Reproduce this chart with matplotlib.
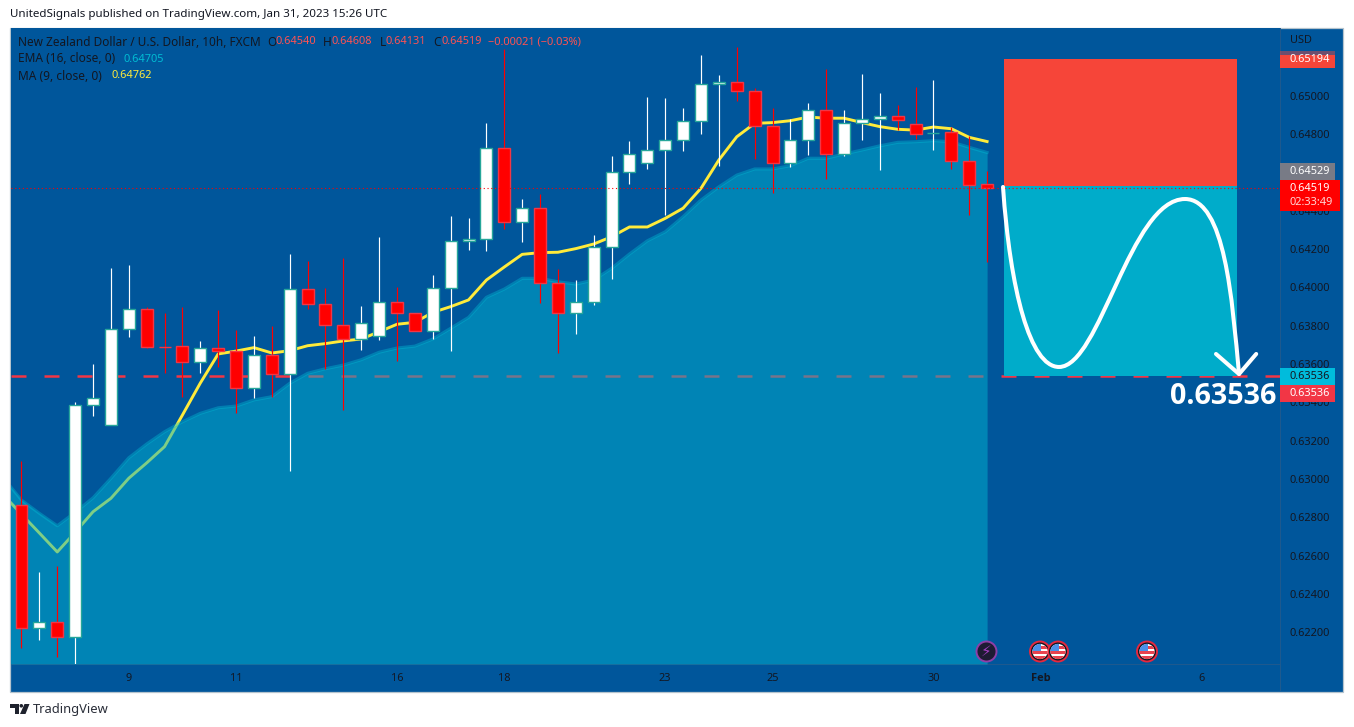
# plot.py

import numpy as np
import matplotlib as mpl
mpl.use('Agg')
import matplotlib.pyplot as plt
from matplotlib.patches import Circle, Polygon, Rectangle, PathPatch
from matplotlib.path import Path
from matplotlib.transforms import Affine2D

W, H = 1354, 727

opens = [0.62863, 0.62220, 0.62252, 0.62176, 0.63385, 0.63280, 0.63782, 0.63886, 0.63691, 0.63693,
         0.63609, 0.63682, 0.63667, 0.63474, 0.63646, 0.63547, 0.63994, 0.63912, 0.63803, 0.63729,
         0.63748, 0.63923, 0.63865, 0.63771, 0.63996, 0.64241, 0.64252, 0.64730, 0.64340, 0.64414,
         0.64022, 0.63865, 0.63926, 0.64213, 0.64602, 0.64649, 0.64716, 0.64769, 0.64868, 0.65061,
         0.65072, 0.65028, 0.64845, 0.64649, 0.64769, 0.64925, 0.64699, 0.64857, 0.64881, 0.64894,
         0.64852, 0.64808, 0.64810, 0.64662, 0.64540]
highs = [0.63094, 0.62514, 0.62546, 0.63401, 0.63601, 0.64102, 0.64117, 0.63897, 0.63865, 0.63897,
         0.63719, 0.63882, 0.63778, 0.63747, 0.63799, 0.64175, 0.64138, 0.63997, 0.64152, 0.63903,
         0.64264, 0.64001, 0.63865, 0.64065, 0.64373, 0.64363, 0.64857, 0.65245, 0.64462, 0.64488,
         0.64095, 0.64039, 0.64274, 0.64687, 0.64765, 0.64995, 0.64990, 0.64936, 0.65214, 0.65110,
         0.65254, 0.65043, 0.64937, 0.64880, 0.64962, 0.65139, 0.64927, 0.65115, 0.65014, 0.64951,
         0.65047, 0.65084, 0.64837, 0.64791, 0.64608]
lows = [0.62119, 0.62159, 0.62072, 0.62034, 0.63331, 0.63280, 0.63743, 0.63686, 0.63555, 0.63430,
        0.63555, 0.63583, 0.63346, 0.63421, 0.63430, 0.63043, 0.63888, 0.63573, 0.63360, 0.63674,
        0.63726, 0.63616, 0.63771, 0.63731, 0.63670, 0.64196, 0.64191, 0.64307, 0.64239, 0.63921,
        0.63656, 0.63757, 0.63909, 0.64046, 0.64540, 0.64619, 0.64379, 0.64714, 0.64803, 0.64636,
        0.64974, 0.64669, 0.64495, 0.64631, 0.64692, 0.64568, 0.64688, 0.64772, 0.64615, 0.64822,
        0.64775, 0.64720, 0.64619, 0.64379, 0.64131]
closes = [0.62220, 0.62252, 0.62176, 0.63385, 0.63421, 0.63782, 0.63886, 0.63691, 0.63689, 0.63609,
          0.63682, 0.63667, 0.63474, 0.63646, 0.63547, 0.63994, 0.63912, 0.63803, 0.63729, 0.63813,
          0.63923, 0.63865, 0.63771, 0.63996, 0.64241, 0.64252, 0.64730, 0.64340, 0.64414, 0.64022,
          0.63865, 0.63926, 0.64213, 0.64602, 0.64696, 0.64716, 0.64769, 0.64868, 0.65061, 0.65072,
          0.65028, 0.64845, 0.64649, 0.64769, 0.64925, 0.64699, 0.64857, 0.64881, 0.64894, 0.64876,
          0.64803, 0.64808, 0.64662, 0.64537, 0.64519]

# first value belongs to the bar just left of the pane
ma9 = [0.62916, 0.62816, 0.62718, 0.62619, 0.62722, 0.62829, 0.62899, 0.63004, 0.63084, 0.63169,
       0.63334, 0.63501, 0.63653, 0.63668, 0.63686, 0.63658, 0.63670, 0.63696, 0.63707, 0.63721,
       0.63731, 0.63769, 0.63808, 0.63818, 0.63870, 0.63900, 0.63935, 0.64039, 0.64107, 0.64173,
       0.64182, 0.64184, 0.64203, 0.64227, 0.64265, 0.64316, 0.64316, 0.64361, 0.64414, 0.64518,
       0.64666, 0.64787, 0.64857, 0.64861, 0.64871, 0.64890, 0.64884, 0.64884, 0.64861, 0.64840,
       0.64826, 0.64822, 0.64838, 0.64829, 0.64784, 0.64762]
ema16 = [0.63005, 0.62890, 0.62821, 0.62756, 0.62826, 0.62902, 0.63004, 0.63111, 0.63183, 0.63247,
         0.63299, 0.63343, 0.63372, 0.63381, 0.63413, 0.63430, 0.63500, 0.63552, 0.63576, 0.63595,
         0.63623, 0.63662, 0.63684, 0.63694, 0.63731, 0.63787, 0.63844, 0.63949, 0.63992, 0.64048,
         0.64048, 0.64030, 0.64018, 0.64039, 0.64100, 0.64175, 0.64244, 0.64291, 0.64370, 0.64457,
         0.64526, 0.64587, 0.64619, 0.64619, 0.64636, 0.64675, 0.64675, 0.64697, 0.64718, 0.64740,
         0.64758, 0.64761, 0.64767, 0.64761, 0.64732, 0.64705]

price_ticks = [0.622, 0.624, 0.626, 0.628, 0.630, 0.632, 0.634, 0.636, 0.638, 0.640, 0.642, 0.644,
               0.646, 0.648, 0.650]
time_ticks = [6, 12, 21, 27, 36, 42, 51, 57, 66]
time_labels = ['9', '11', '16', '18', '23', '25', '30', 'Feb', '6']

last_close = 0.64519
entry_price = 0.64529
stop_price = 0.65194
target_price = 0.63536
trade_start, trade_end = 54.95, 67.98

# hand drawn swing on the short position
swing_bars = [54.89, 55.29, 56.40, 58.02, 60.32, 62.00, 65.07, 67.31, 67.70, 68.09]
swing_prices = [0.64525, 0.63987, 0.63585, 0.63585, 0.63585, 0.64462, 0.64462, 0.64462, 0.63935, 0.63548]
arrow_bars = [66.80, 68.09, 69.05]
arrow_prices = [0.63653, 0.63548, 0.63653]

BG = '#00569b'
DARK = '#131722'
UP_EDGE = '#26a69a'
DOWN_EDGE = '#f23645'
LEG_RED = '#ff5252'
CYAN = '#00bcd4'
YELLOW = '#ffeb3b'
DIVIDER = '#1f5a8e'

plt.rcParams['font.family'] = ['Noto Sans', 'DejaVu Sans']

fig = plt.figure(figsize=(W / 100, H / 100), dpi=100, facecolor='white')
px = Affine2D().scale(1, -1).translate(0, H)  # pixel coords, origin top left


def ptext(x, y, s, color=DARK, size=7.9, **kw):
    kw.setdefault('va', 'center')
    kw.setdefault('zorder', 12)
    fig.text(x, y, s, color=color, fontsize=size, transform=px, **kw)


fig.add_artist(Rectangle((10, 27.5), 1333, 664, transform=px, fc=BG, ec='#b4c3cd', lw=0.9, zorder=-2))

ax = fig.add_axes([11 / W, 1 - 664 / H, 1269 / W, 636 / H])
ax.set_facecolor(BG)
for s in ax.spines.values():
    s.set_visible(False)
for side in ['right', 'bottom']:
    ax.spines[side].set_visible(True)
    ax.spines[side].set_color(DIVIDER)
    ax.spines[side].set_linewidth(0.7)
ax.set_xlim(-0.587, 70.38)
ax.set_ylim(0.62034, 0.65355)
fig.add_artist(Rectangle((1280, 664), 0.7, 27, transform=px, fc=DIVIDER, ec='none', zorder=1))

bars = np.arange(len(opens))
line_bars = np.arange(-1, len(opens))
opens = np.array(opens)
closes = np.array(closes)
rising = closes >= opens

# levels under everything
ax.axhline(target_price, color=DOWN_EDGE, lw=1.8, ls=(0, (6, 7.2)), zorder=1)

# averages, the area sits over the yellow line
ax.plot(line_bars, ma9, color=YELLOW, lw=2.1, zorder=2, solid_joinstyle='round')
ax.fill_between(line_bars, ema16, 0.62034, color='#00b2cf', alpha=0.5, lw=0, zorder=3)
ax.plot(line_bars, ema16, color=CYAN, lw=2.2, alpha=0.4, zorder=3)

# short position tool
ax.add_patch(Rectangle((trade_start, entry_price), trade_end - trade_start, stop_price - entry_price,
                       fc='#f64539', ec='none', zorder=4))
ax.add_patch(Rectangle((trade_start, target_price), trade_end - trade_start, entry_price - target_price,
                       fc='#00acca', ec='none', zorder=4))

# candles
for i in bars:
    ax.plot([i, i], [lows[i], highs[i]], color='white' if rising[i] else '#ff0000', lw=0.85,
            solid_capstyle='butt', zorder=5)
body_col = ['white' if r else '#ff0000' for r in rising]
edge_col = [UP_EDGE if r else DOWN_EDGE for r in rising]
ax.bar(bars, closes - opens, bottom=opens, width=0.67, color=body_col, edgecolor=edge_col,
       linewidth=1.0, zorder=6)

ax.axhline(last_close, color='#ff0000', lw=0.8, ls=(0, (1, 2.4)), zorder=7)

# swing and arrow
verts = list(zip(swing_bars, swing_prices))
codes = [Path.MOVETO] + [Path.CURVE4] * 9
ax.add_patch(PathPatch(Path(verts, codes), fc='none', ec='white', lw=2.9, zorder=8, capstyle='round'))
ax.plot(arrow_bars, arrow_prices, color='white', lw=2.9, zorder=8, solid_capstyle='round')

ax.yaxis.tick_right()
ax.set_yticks(price_ticks)
ax.set_yticklabels(['%.5f' % p for p in price_ticks])
ax.set_xticks(time_ticks)
ax.set_xticklabels(time_labels)
ax.tick_params(axis='y', length=0, pad=7.2, labelsize=7.9, labelcolor=DARK)
ax.tick_params(axis='x', length=0, pad=6.5, labelsize=7.9, labelcolor=DARK)
feb = ax.get_xticklabels()[7]
feb.set_family('Open Sans')
feb.set_fontweight('bold')


# price axis tags
def tag(y_top, y_bot, x_right, color):
    fig.add_artist(Rectangle((1280, y_top), x_right - 1280, y_bot - y_top, transform=px, fc=color,
                             ec='none', zorder=10))


tag(55, 68, 1335, '#f64539')
fig.add_artist(Rectangle((1280, 51), 55, 4, transform=px, fc='#f64539', ec='none', alpha=0.45, zorder=10))
ptext(1290, 60, '0.65194', color='white')
tag(163, 180, 1335, '#787b86')
ptext(1290, 171.5, '0.64529', color='white')
tag(180, 211, 1340, '#ff0000')
ptext(1290, 188.5, '0.64519', color='white')
ptext(1290, 202.5, '02:33:49', color='#ffd6d6')
tag(368, 385, 1335, '#00bcdc')
ptext(1290, 376.5, '0.63536', color=DARK)
tag(385, 402, 1335, '#f23645')
ptext(1290, 393.5, '0.63536', color='white')
ptext(1290, 40.5, 'USD', color=DARK)

ptext(1170, 396, '0.63536', color='white', size=20.7, fontweight='bold', family='Open Sans')

# header and footer
ptext(10, 15, 'UnitedSignals published on TradingView.com, Jan 31, 2023 15:26 UTC', size=8.35, color='#131722')
ptext(33, 710, 'TradingView', size=9.3, color='#2a2e39')
fig.add_artist(Polygon([(10, 704), (19, 704), (19, 714), (14.5, 714), (14.5, 707.5), (10, 707.5)],
                       transform=px, fc='#1e222d', ec='none'))
fig.add_artist(Circle((21.3, 705.8), 1.8, transform=px, fc='#1e222d', ec='none'))
fig.add_artist(Polygon([(24.5, 704), (29.5, 704), (25.5, 714), (20, 714)], transform=px,
                       fc='#1e222d', ec='none'))

# legend
ptext(18, 42, 'New Zealand Dollar / U.S. Dollar, 10h, FXCM', size=8.5)
for x, s in [(267, 'O'), (323, 'H'), (380, 'L'), (433, 'C')]:
    ptext(x, 42, s, size=8.5)
for x, s in [(275, '0.64540'), (331, '0.64608'), (385, '0.64131'), (441, '0.64519'),
             (488, '\u22120.00021 (\u22120.03%)')]:
    ptext(x, 42, s, color=LEG_RED)
ptext(18, 59, 'EMA (16, close, 0)', size=8.6)
ptext(124, 59, '0.64705', color=CYAN)
ptext(18, 76, 'MA (9, close, 0)', size=8.6)
ptext(112, 76, '0.64762', color=YELLOW)

# event markers on the time axis
fig.add_artist(Circle((986.5, 651.5), 10, transform=px, fc='#1e1b33', ec='#8e3fa8', lw=1.4, zorder=11))
ptext(986.5, 651.5, '\u26a1', color='#a23ec0', size=11, ha='center', family='DejaVu Sans')
for cx in [1040, 1058, 1147]:
    rim = Circle((cx, 651.5), 10, transform=px, fc='#131722', ec='#e5283f', lw=1.4, zorder=11)
    fig.add_artist(rim)
    face = Circle((cx, 651.5), 7.6, transform=px, fc='white', ec='none', zorder=12)
    fig.add_artist(face)
    for top, col in [(651, '#e8434f'), (656, '#e8434f')]:
        stripe = Rectangle((cx - 9, top), 18, 2.5, transform=px, fc=col, ec='none', zorder=13)
        fig.add_artist(stripe)
        stripe.set_clip_path(face)
    stripe = Rectangle((cx + 0.5, 646), 9, 2.5, transform=px, fc='#e8434f', ec='none', zorder=13)
    fig.add_artist(stripe)
    stripe.set_clip_path(face)
    canton = Rectangle((cx - 9, 643), 9.5, 8, transform=px, fc='#4a90e8', ec='none', zorder=14)
    fig.add_artist(canton)
    canton.set_clip_path(face)

fig.savefig('out.png', dpi=100, facecolor='white')
